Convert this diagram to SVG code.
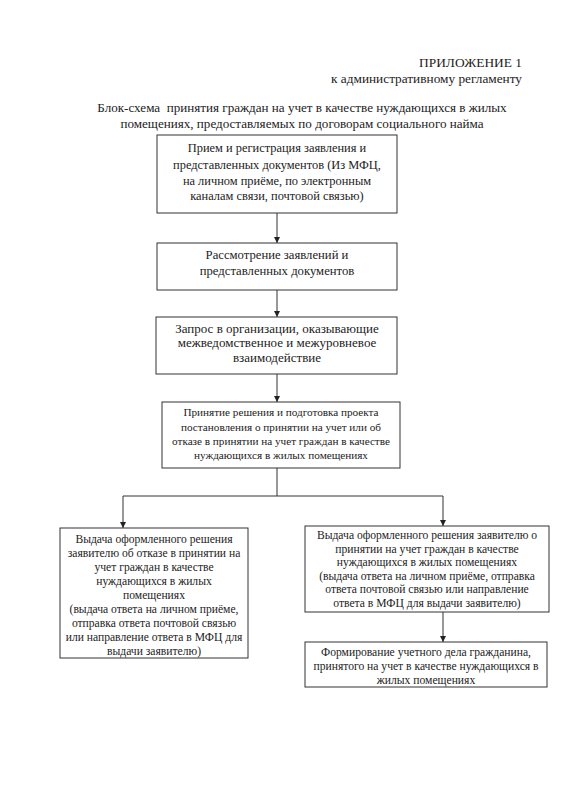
<svg xmlns="http://www.w3.org/2000/svg" width="564" height="800" viewBox="0 0 564 800">
<style>
text{font-family:"Liberation Serif","Times New Roman",serif;fill:#222;text-anchor:middle}
.b rect{fill:#fff;stroke:#333;stroke-width:1}
.c{fill:none;stroke:#333;stroke-width:1}
.f1{font-size:12.4px}
.f2{font-size:12.7px}
.f3{font-size:13px}
.f4{font-size:11.2px}
.f5{font-size:11.6px}
</style>
<defs>
<marker id="ah" viewBox="0 0 10 10" refX="10" refY="5" markerWidth="6" markerHeight="6" orient="auto" markerUnits="userSpaceOnUse">
<path d="M0,0 L10,5 L0,10 z" fill="#222"/>
</marker>
</defs>
<rect width="564" height="800" fill="#fff"/>
<g id="header">
<text x="522" y="67" style="text-anchor:end;font-size:13.4px">ПРИЛОЖЕНИЕ 1</text>
<text x="522" y="83" style="text-anchor:end;font-size:13.3px">к административному регламенту</text>
</g>
<g id="title">
<text x="302" y="112" style="font-size:13.1px" xml:space="preserve">Блок-схема  принятия граждан на учет в качестве нуждающихся в жилых</text>
<text x="302" y="128" style="font-size:13.1px">помещениях, предоставляемых по договорам социального найма</text>
</g>
<g id="connectors">
<line class="c" x1="277" y1="213" x2="277" y2="243" marker-end="url(#ah)"/>
<line class="c" x1="277" y1="290" x2="277" y2="317" marker-end="url(#ah)"/>
<line class="c" x1="277" y1="374" x2="277" y2="402" marker-end="url(#ah)"/>
<polyline class="c" points="277,468 277,496 123,496 123,528" marker-end="url(#ah)"/>
<polyline class="c" points="277,496 443,496 443,526" marker-end="url(#ah)"/>
<line class="c" x1="443" y1="612" x2="443" y2="642" marker-end="url(#ah)"/>
</g>
<g id="n1" class="b">
<rect x="157" y="135" width="240" height="78"/>
<text class="f1" x="277" y="152">Прием и регистрация заявления и</text>
<text class="f1" x="277" y="169">представленных документов (Из МФЦ,</text>
<text class="f1" x="277" y="185">на личном приёме, по электронным</text>
<text class="f1" x="277" y="200">каналам связи, почтовой связью)</text>
</g>
<g id="n2" class="b">
<rect x="157" y="243" width="240" height="47"/>
<text class="f2" x="277" y="259">Рассмотрение заявлений и</text>
<text class="f2" x="277" y="275">представленных документов</text>
</g>
<g id="n3" class="b">
<rect x="156" y="317" width="241" height="57"/>
<text class="f3" x="277" y="333">Запрос в организации, оказывающие</text>
<text class="f3" x="277" y="347">межведомственное и межуровневое</text>
<text class="f3" x="277" y="362">взаимодействие</text>
</g>
<g id="n4" class="b">
<rect x="162" y="402" width="238" height="66"/>
<text class="f4" x="281" y="416">Принятие решения и подготовка проекта</text>
<text class="f4" x="281" y="431">постановления о принятии на учет или об</text>
<text class="f4" x="281" y="445">отказе в принятии на учет граждан в качестве</text>
<text class="f4" x="281" y="459">нуждающихся в жилых помещениях</text>
</g>
<g id="n5" class="b">
<rect x="60" y="528" width="188" height="130"/>
<text class="f5" x="154" y="543">Выдача оформленного решения</text>
<text class="f5" x="154" y="557">заявителю об отказе в принятии на</text>
<text class="f5" x="154" y="571">учет граждан в качестве</text>
<text class="f5" x="154" y="585">нуждающихся в жилых</text>
<text class="f5" x="154" y="599">помещениях</text>
<text class="f5" x="154" y="613">(выдача ответа на личном приёме,</text>
<text class="f5" x="154" y="627">отправка ответа почтовой связью</text>
<text class="f5" x="154" y="641">или направление ответа в МФЦ для</text>
<text class="f5" x="154" y="655">выдачи заявителю)</text>
</g>
<g id="n6" class="b">
<rect x="305" y="526" width="244" height="86"/>
<text class="f5" x="427" y="539">Выдача оформленного решения заявителю о</text>
<text class="f5" x="427" y="553">принятии на учет граждан в качестве</text>
<text class="f5" x="427" y="566">нуждающихся в жилых помещениях</text>
<text class="f5" x="427" y="580">(выдача ответа на личном приёме, отправка</text>
<text class="f5" x="427" y="593">ответа почтовой связью или направление</text>
<text class="f5" x="427" y="607">ответа в МФЦ для выдачи заявителю)</text>
</g>
<g id="n7" class="b">
<rect x="305" y="642" width="242" height="45"/>
<text class="f5" x="426" y="656">Формирование учетного дела гражданина,</text>
<text class="f5" x="426" y="670">принятого на учет в качестве нуждающихся в</text>
<text class="f5" x="426" y="684">жилых помещениях</text>
</g>
</svg>
